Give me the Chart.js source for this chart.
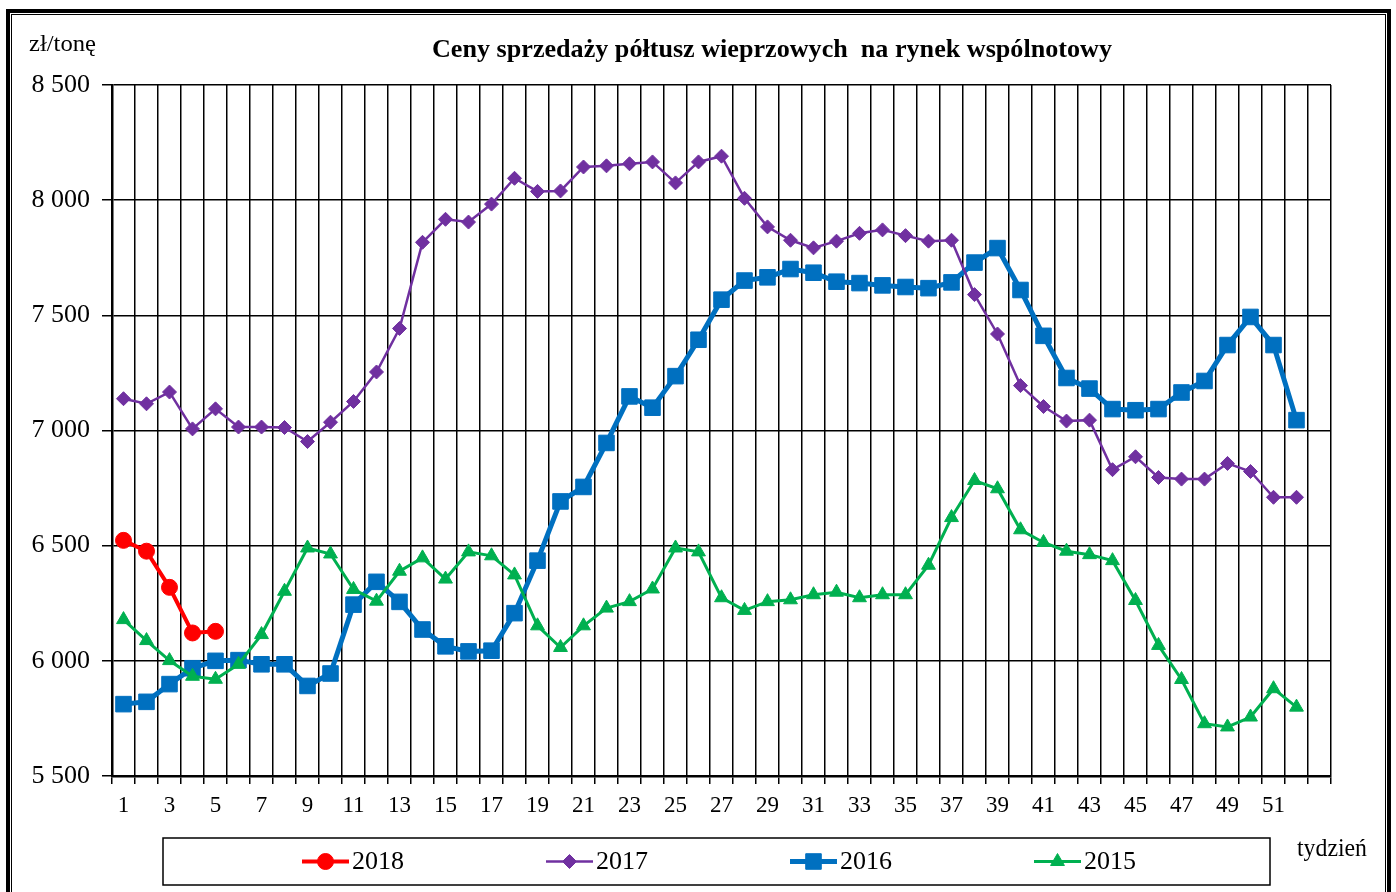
<!DOCTYPE html>
<html>
<head>
<meta charset="utf-8">
<script src="https://cdn.jsdelivr.net/npm/chart.js@4/dist/chart.umd.min.js"></script>
<style>
  html, body { margin: 0; padding: 0; background: #fff; overflow: hidden; }
  #wrap { position: relative; width: 1396px; height: 892px; }
  #frame { position: absolute; left: 6px; top: 9px; width: 1385px; height: 900px; box-sizing: border-box; border: 4px solid #000; }
  #frame2 { position: absolute; left: 1px; top: 1px; right: 1px; bottom: 1px; border: 1px solid #000; }
  canvas { position: absolute; left: 0; top: 0; }
  .txt { position: absolute; font-family: "Liberation Serif", "Times New Roman", serif; color: #000; white-space: pre; line-height: 1; transform-origin: 0 0; }
  #title { left: 432px; top: 36px; font-size: 26px; font-weight: bold; }
  #unit { left: 29px; top: 31px; font-size: 24px; }
  #week { left: 1297px; top: 835px; font-size: 25px; }
</style>
</head>
<body>
<div id="wrap">
  <div id="frame"><div id="frame2"></div></div>
  <canvas id="c" width="1396" height="892"></canvas>
  <div class="txt" id="title">Ceny sprzedaży półtusz wieprzowych  na rynek wspólnotowy</div>
  <div class="txt" id="unit">zł/tonę</div>
  <div class="txt" id="week">tydzień</div>
</div>
<script>
// ---- data ----
const weeks = ['1','2','3','4','5','6','7','8','9','10','11','12','13','14','15','16','17','18','19','20',
  '21','22','23','24','25','26','27','28','29','30','31','32','33','34','35','36','37','38','39','40',
  '41','42','43','44','45','46','47','48','49','50','51','52',''];
const seriesNames = ['2018', '2017', '2016', '2015'];
const y2018 = [6523, 6476, 6319, 6121, 6128];
const y2017 = [7138, 7116, 7167, 7007, 7094, 7015, 7015, 7013, 6952, 7036,
  7126, 7254, 7443, 7817, 7917, 7905, 7983, 8095, 8038, 8040,
  8144, 8149, 8158, 8166, 8075, 8166, 8191, 8008, 7884, 7826,
  7793, 7822, 7856, 7871, 7846, 7822, 7826, 7590, 7419, 7195,
  7104, 7041, 7045, 6830, 6886, 6796, 6789, 6789, 6857, 6822,
  6710, 6710];
const y2016 = [5812, 5822, 5899, 5968, 6000, 6003, 5985, 5985, 5891, 5945,
  6244, 6343, 6256, 6136, 6063, 6041, 6044, 6207, 6435, 6692,
  6755, 6946, 7148, 7099, 7236, 7394, 7568, 7651, 7665, 7701,
  7685, 7646, 7640, 7630, 7623, 7618, 7643, 7729, 7792, 7610,
  7411, 7228, 7182, 7093, 7088, 7093, 7165, 7215, 7371, 7493,
  7371, 7045];
const y2015 = [6179, 6088, 6001, 5933, 5920, 5985, 6114, 6302, 6490, 6464,
  6310, 6259, 6389, 6447, 6355, 6473, 6456, 6373, 6152, 6058,
  6152, 6229, 6257, 6312, 6490, 6473, 6274, 6219, 6257, 6265,
  6287, 6298, 6274, 6287, 6287, 6415, 6622, 6783, 6747, 6569,
  6514, 6476, 6461, 6435, 6262, 6067, 5919, 5727, 5713, 5756,
  5879, 5799];
const yTicks = [5500, 6000, 6500, 7000, 7500, 8000, 8500];

// ---- fit text widths (condensed look of the original) ----
function fitWidth(id, target) {
  const el = document.getElementById(id);
  const w = el.getBoundingClientRect().width;
  el.style.transform = 'scaleX(' + (target / w).toFixed(4) + ')';
}
fitWidth('title', 680);
fitWidth('unit', 67);
fitWidth('week', 70);

const FONT = '"Liberation Serif", "Times New Roman", serif';

const legendBox = {
  id: 'legendBox',
  afterDraw(chart, args, opts) {
    const ctx = chart.ctx;
    ctx.save();
    ctx.strokeStyle = '#000';
    ctx.lineWidth = 1.5;
    ctx.strokeRect(opts.left, opts.top, opts.right - opts.left, opts.bottom - opts.top);
    const cy = (opts.top + opts.bottom) / 2;
    chart.data.datasets.forEach((ds, i) => {
      const x0 = opts.start + i * opts.step;
      const x1 = x0 + opts.sample;
      ctx.strokeStyle = ds.borderColor;
      ctx.lineWidth = ds.borderWidth;
      ctx.beginPath();
      ctx.moveTo(x0, cy);
      ctx.lineTo(x1, cy);
      ctx.stroke();
      ctx.fillStyle = ds.pointBackgroundColor;
      ctx.strokeStyle = ds.pointBorderColor;
      ctx.lineWidth = ds.pointBorderWidth;
      Chart.helpers.drawPoint(ctx, {
        pointStyle: ds.pointStyle, radius: ds.pointRadius, rotation: 0, borderWidth: ds.pointBorderWidth
      }, (x0 + x1) / 2, cy);
      ctx.fillStyle = '#000';
      ctx.font = opts.font;
      ctx.textAlign = 'left';
      ctx.textBaseline = 'middle';
      ctx.fillText(ds.label, x1 + 3, cy + 1);
    });
    ctx.restore();
  }
};

function mk(label, data, color, style, radius, lw, order) {
  return {
    label, data, order,
    borderColor: color, backgroundColor: color,
    pointBackgroundColor: color, pointBorderColor: color, pointBorderWidth: 1,
    pointStyle: style, pointRadius: radius, pointHoverRadius: radius,
    borderWidth: lw, tension: 0, fill: false
  };
}

new Chart(document.getElementById('c'), {
  type: 'line',
  data: {
    labels: weeks,
    datasets: [
      mk(seriesNames[0], y2018, '#FF0000', 'circle', 8, 4, 0),
      mk(seriesNames[1], y2017, '#7030A0', 'rectRot', 7, 2.5, 2),
      mk(seriesNames[2], y2016, '#0070C0', 'rect', 11, 5, 3),
      mk(seriesNames[3], y2015, '#00B050', 'triangle', 8, 3, 1)
    ]
  },
  options: {
    responsive: false,
    devicePixelRatio: 1,
    animation: false,
    events: [],
    layout: { padding: { left: 0, top: 85, right: 65, bottom: 0 } },
    plugins: {
      legend: { display: false },
      title: { display: false },
      tooltip: { enabled: false },
      legendBox: { left: 163, right: 1270, top: 838, bottom: 885, start: 302, step: 244, sample: 47,
        font: '26px ' + FONT }
    },
    scales: {
      x: {
        type: 'category',
        offset: true,
        grid: { offset: true, color: '#000', lineWidth: 1.5, drawTicks: true, tickLength: 8, tickColor: '#000', tickWidth: 1.5 },
        border: { color: '#000', width: 2.5 },
        ticks: {
          autoSkip: false, maxRotation: 0, minRotation: 0, padding: 8,
          color: '#000', font: { family: FONT, size: 23 },
          callback: function (v, i) { return i % 2 === 0 ? this.getLabelForValue(v) : ''; }
        },
        afterFit: s => { s.height = 892 - 776; }
      },
      y: {
        min: yTicks[0], max: yTicks[yTicks.length - 1],
        afterBuildTicks: s => { s.ticks = yTicks.map(v => ({ value: v })); },
        grid: { color: '#000', lineWidth: 1.5, drawTicks: true, tickLength: 10, tickColor: '#000', tickWidth: 1.5 },
        border: { color: '#000', width: 2.5 },
        ticks: {
          padding: 12, color: '#000', font: { family: FONT, size: 26 },
          callback: v => String(v).replace(/\B(?=(\d{3})+(?!\d))/g, ' ')
        },
        afterFit: s => { s.width = 112; }
      }
    }
  },
  plugins: [legendBox]
});
</script>
</body>
</html>
